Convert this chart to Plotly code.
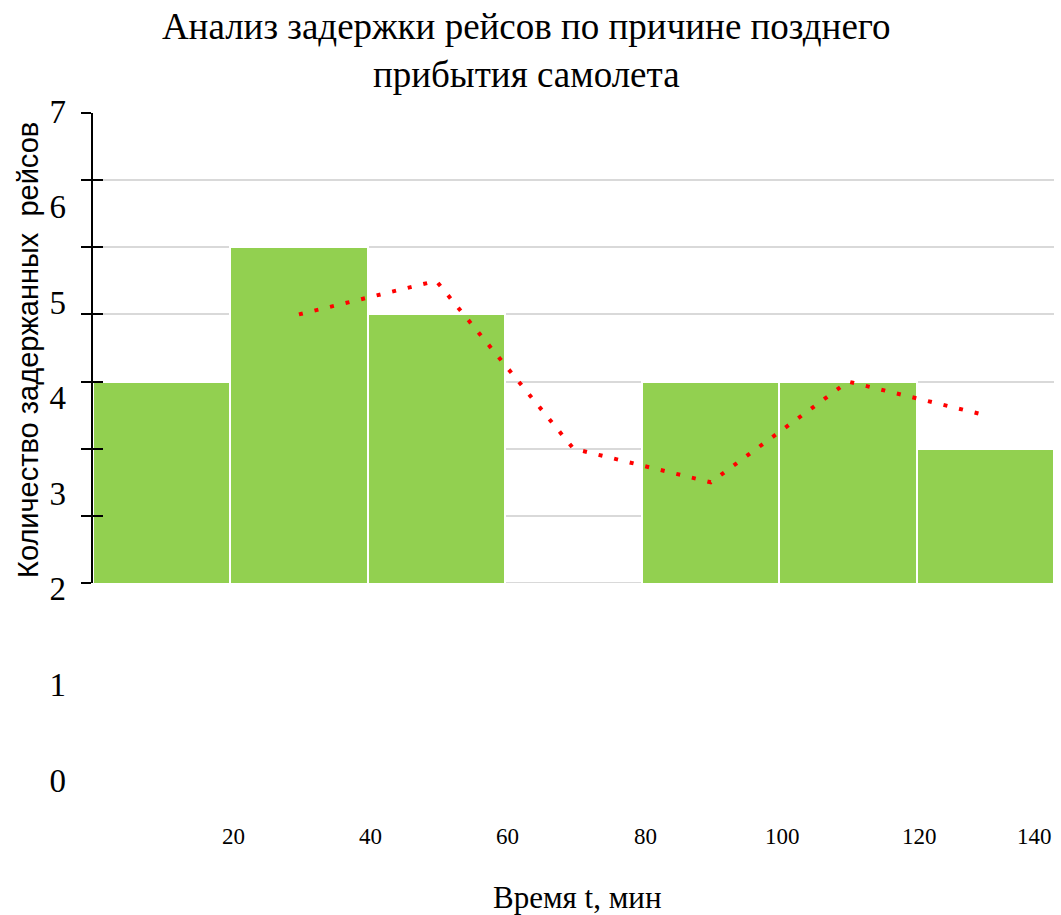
import plotly.graph_objects as go

# Delay histogram: 20-minute bins of late-arrival delays
bin_centers = [10, 30, 50, 70, 90, 110, 130]
delayed_flights = [4, 6, 5, 1, 4, 4, 3]
x_tick_values = [20, 40, 60, 80, 100, 120, 140]
y_tick_labels = [0, 1, 2, 3, 4, 5, 6, 7]

# Two-period moving average of the bin counts
ma_x = bin_centers[1:]
ma_y = [(a + b) / 2 for a, b in zip(delayed_flights[:-1], delayed_flights[1:])]

W, H = 1061, 915
px = lambda v: v / W
py = lambda v: (H - v) / H

serif = "Liberation Serif"
sans = "Liberation Sans"
grid_color = "#d9d9d9"

fig = go.Figure()

fig.add_trace(go.Bar(
    x=bin_centers, y=delayed_flights, width=20,
    marker=dict(color="#92d050",
                line=dict(color="white", width=[2, 2, 2, 0, 2, 2, 2])),
    showlegend=False, hoverinfo="x+y",
))

fig.add_trace(go.Scatter(
    x=ma_x, y=ma_y, mode="lines",
    line=dict(color="#ff0000", width=4, dash="4px,12px"),
    showlegend=False,
))

# carriers for the labelled value scale and the inner tick marks
fig.add_trace(go.Scatter(x=[None], y=[None], yaxis="y2", showlegend=False,
                         hoverinfo="skip"))
fig.add_trace(go.Scatter(x=[None], y=[None], yaxis="y3", showlegend=False,
                         hoverinfo="skip"))

fig.update_layout(
    width=W, height=H,
    margin=dict(l=0, r=0, t=0, b=0, autoexpand=False),
    paper_bgcolor="white", plot_bgcolor="rgba(0,0,0,0)",
    bargap=0,
    title=dict(
        text="Анализ задержки рейсов по причине позднего<br>прибытия самолета",
        font=dict(family=serif, size=37, color="black"),
        x=0.496, xanchor="center", y=py(39), yanchor="middle",
    ),
    xaxis=dict(
        domain=[px(93), px(1054)], range=[0, 140],
        showgrid=False, zeroline=False, showline=False,
        showticklabels=False, ticks="", automargin=False,
    ),
    yaxis=dict(
        domain=[py(583), py(113)], range=[1, 8],
        dtick=1, showgrid=True, gridcolor=grid_color, gridwidth=2,
        zeroline=False, showline=True, linecolor="black", linewidth=2,
        ticks="outside", ticklen=10, tickwidth=2, tickcolor="black",
        showticklabels=False, automargin=False,
    ),
    yaxis3=dict(
        overlaying="y", range=[1, 8], dtick=1, showgrid=False,
        zeroline=False, showline=False,
        ticks="inside", ticklen=10, tickwidth=2, tickcolor="black",
        showticklabels=False, anchor="x", automargin=False,
    ),
    yaxis2=dict(
        domain=[py(780), py(111)], range=[0, 7],
        anchor="free", position=px(66),
        tickvals=y_tick_labels, ticktext=[str(v) for v in y_tick_labels],
        showgrid=False, zeroline=False, showline=False, ticks="",
        tickfont=dict(family=serif, size=33, color="black"),
        automargin=False,
    ),
)

# baseline grid rule at the bottom of the value range
fig.add_shape(
    type="line", xref="x domain", x0=0, x1=1, yref="y", y0=1, y1=1,
    line=dict(color=grid_color, width=2), layer="below",
)

for v in x_tick_values:
    fig.add_annotation(
        x=v, xref="x", y=py(836), yref="paper",
        text=str(v), showarrow=False,
        xanchor="right" if v == x_tick_values[-1] else "center",
        xshift=0 if v == x_tick_values[-1] else 3,
        yanchor="middle",
        font=dict(family=serif, size=23, color="black"),
    )

fig.add_annotation(
    x=px(577), xref="paper", y=py(897), yref="paper",
    text="Время t, мин", showarrow=False,
    xanchor="center", yanchor="middle",
    font=dict(family=serif, size=31, color="black"),
)

fig.add_annotation(
    x=px(28), xref="paper", y=py(350), yref="paper",
    text="Количество задержанных  рейсов", showarrow=False,
    textangle=-90, xanchor="center", yanchor="middle",
    font=dict(family=sans, size=29, color="black"),
)

fig.write_html("out.html")
